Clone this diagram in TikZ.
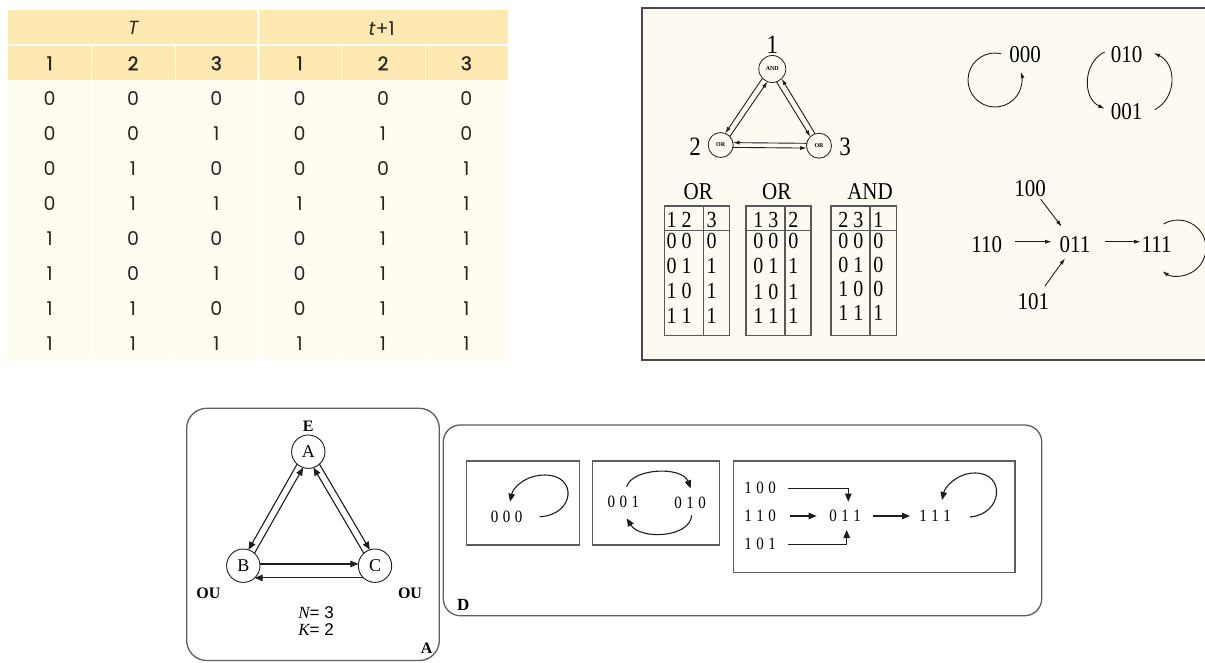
\documentclass[tikz,border=0pt]{standalone}
\usepackage{fontspec}
\setmainfont{Liberation Serif}
\newfontfamily\popfont{Poppins}
\newfontfamily\popheadfont[FakeBold=1.3]{Poppins}
\newfontfamily\arialfont{Liberation Sans}
\usetikzlibrary{arrows.meta,calc}

\definecolor{headyellow}{HTML}{FEEAB0}
\definecolor{cellcream}{HTML}{FFFCF0}
\definecolor{panelcream}{HTML}{FDFBF1}
\definecolor{framegray}{HTML}{4A4A4A}
\definecolor{boxgray}{HTML}{5E5E5E}
\definecolor{inkdark}{HTML}{1E1E1E}

\newcommand{\fs}[1]{\fontsize{#1}{#1}\selectfont}
\newcommand{\tall}[1]{\scalebox{1}[1.15]{#1}}
\newcommand{\spaced}[3]{\tall{#1\kern4.5pt#2\kern4.5pt#3}}

\begin{document}
\begin{tikzpicture}[x=1pt,y=-1pt,
  every node/.style={inner sep=0pt, outer sep=0pt},
  tabhead/.style={font=\popheadfont\fs{19}, text=black!85},
  tabcell/.style={font=\popfont\fs{19}, text=black!85},
  gate/.style={circle, draw=inkdark, line width=0.8pt, fill=panelcream, font=\bfseries\fs{6}},
  lab/.style={font=\fs{23}},
  state/.style={font=\fs{21}},
  tarrow/.style={draw=inkdark, line width=0.9pt, -{Latex[length=6.5pt,width=4pt]}},
  ttitle/.style={font=\fs{21}},
  tdigit/.style={font=\fs{20}},
  tabline/.style={draw=black!65, line width=1.3pt},
  boxline/.style={draw=boxgray, line width=1.3pt},
  vertex/.style={circle, draw=inkdark, line width=0.9pt, minimum size=33.4pt, fill=white, font=\fs{18}},
  darrow/.style={draw=inkdark, line width=1.1pt, -{Triangle[length=8pt,width=6.5pt]}},
  tag/.style={font=\bfseries\fs{16}},
  bstate/.style={font=\fs{15}}
]
\useasboundingbox (0,0) rectangle (1205,662);
\clip (0,0) rectangle (1205,662);
\fill[white] (0,0) rectangle (1205,662);

% ---------- state transition table ----------
\fill[headyellow] (8.3,10) rectangle (508.3,80);
\fill[cellcream] (8.3,80) rectangle (508.3,359.3);
\foreach \k in {1,2,4,5}
  \draw[white, line width=0.8pt] ({8.3+83.33*\k},45) -- ({8.3+83.33*\k},359.3);
\draw[white, line width=2pt] (8.3,45) -- (508.3,45);
\draw[white, line width=2.5pt] (258.3,10) -- (258.3,359.3);
\node[tabhead, font=\popfont\itshape\fs{19}] (hT) at (133.3,28.3) {T};
\node[tabhead, font=\popfont\fs{19}] (hT1) at (381.7,28.3) {{\itshape t}+1};
\foreach \v [count=\j] in {1,2,3,1,2,3}
  \node[tabhead] (hc\j) at ({49.7+83.33*(\j-1)},63.3) {\v};
\foreach \a/\b/\c/\d/\e/\f [count=\i] in
  {0/0/0/0/0/0, 0/0/1/0/1/0, 0/1/0/0/0/1, 0/1/1/1/1/1,
   1/0/0/0/1/1, 1/0/1/0/1/1, 1/1/0/0/1/1, 1/1/1/1/1/1}
  \foreach \v [count=\j] in {\a,\b,\c,\d,\e,\f}
    \node[tabcell] (d\i c\j) at ({49.7+83.33*(\j-1)},{99+34.9*(\i-1)}) {\v};

% ---------- network panel ----------
\draw[framegray, line width=2.2pt, fill=panelcream] (641.7,8.3) rectangle (1230,360);

\node[gate, minimum size=27pt] (n1) at (772.3,69) {AND};
\node[gate, minimum size=25pt] (n2) at (720.7,145) {OR};
\node[gate, minimum size=25pt] (n3) at (819,145.7) {OR};
\node[lab] (l1) at (772.3,45) {\tall{1}};
\node[lab] (l2) at (695,146.7) {\tall{2}};
\node[lab] (l3) at (845,146.7) {\tall{3}};

\draw[tarrow] (n1.223) -- (n2.69);
\draw[tarrow] (n2.43) -- (n1.249);
\draw[tarrow] (n1.288) -- (n3.134);
\draw[tarrow] (n3.108) -- (n1.314);
\draw[tarrow] (n3.169) -- (n2.11);
\draw[tarrow] (n2.349) -- (n3.191);

% attractors
\node[state] (s000) at (1025,55) {\tall{000}};
\draw[tarrow] ($(s000)+(-30,25)+(-77:27)$) arc[start angle=-77, end angle=-378, radius=27];

\node[state] (s010) at (1126.7,55) {\tall{010}};
\node[state] (s001) at (1126.7,111.7) {\tall{001}};
\draw[tarrow] ([shift={(-22,-3)}]s010.center) .. controls (1083,62) and (1082,98) .. ([shift={(-22,-3)}]s001.center);
\draw[tarrow] ([shift={(28,-2)}]s001.center) .. controls (1177,98) and (1177,64) .. ([shift={(27,-2)}]s010.center);

\node[state] (s100) at (1030,188.3) {\tall{100}};
\node[state] (s110) at (986.7,245) {\tall{110}};
\node[state] (s011) at (1075,245) {\tall{011}};
\node[state] (s111) at (1156.7,245) {\tall{111}};
\node[state] (s101) at (1033.3,301.7) {\tall{101}};
\draw[tarrow] ([shift={(28.3,-3.3)}]s110.center) -- ([shift={(-23.3,-3.3)}]s011.center);
\draw[tarrow] ([shift={(10.7,11)}]s100.center) -- ([shift={(-13.3,-18.3)}]s011.center);
\draw[tarrow] ([shift={(11.7,-15.7)}]s101.center) -- ([shift={(-10,13.3)}]s011.center);
\draw[tarrow] ([shift={(30,-3.3)}]s011.center) -- ([shift={(-16,-3.3)}]s111.center);
\draw[tarrow] ($(s111)+(21.3,3)+(-121:28)$) arc[start angle=-121, end angle=124, radius=28];

% gate truth tables
\node[ttitle] (ta) at (698.3,191.7) {\tall{OR}};
\draw[tabline] (664.3,206) rectangle (729.3,335.7) (703.3,206) -- (703.3,335.7) (664.3,230.7) -- (729.3,230.7);
\foreach \y/\p/\q/\r [count=\i] in {219.7/1/2/3, 241/0/0/0, 266/0/1/1, 291/1/0/1, 316/1/1/1} {
  \node[tdigit] (ta\i p) at (671.7,\y) {\tall{\p}};
  \node[tdigit] (ta\i q) at (686.7,\y) {\tall{\q}};
  \node[tdigit] (ta\i r) at (711.7,\y) {\tall{\r}};
}
\node[ttitle] (tb) at (776.7,191.7) {\tall{OR}};
\draw[tabline] (746,206) rectangle (811,335.7) (785,206) -- (785,335.7) (746,230.7) -- (811,230.7);
\foreach \y/\p/\q/\r [count=\i] in {219.7/1/3/2, 241/0/0/0, 266/0/1/1, 292/1/0/1, 316/1/1/1} {
  \node[tdigit] (tb\i p) at (758.3,\y) {\tall{\p}};
  \node[tdigit] (tb\i q) at (773.3,\y) {\tall{\q}};
  \node[tdigit] (tb\i r) at (793.3,\y) {\tall{\r}};
}
\node[ttitle] (tc) at (870,191.7) {\tall{AND}};
\draw[tabline] (831,206) rectangle (896.7,335.7) (870,206) -- (870,335.7) (831,230.7) -- (896.7,230.7);
\foreach \y/\p/\q/\r [count=\i] in {219.7/2/3/1, 241/0/0/0, 265/0/1/0, 289/1/0/0, 313/1/1/1} {
  \node[tdigit] (tc\i p) at (843.3,\y) {\tall{\p}};
  \node[tdigit] (tc\i q) at (858.3,\y) {\tall{\q}};
  \node[tdigit] (tc\i r) at (878.3,\y) {\tall{\r}};
}

% ---------- panel A: network ----------
\draw[boxline, rounded corners=20pt] (186.7,408.3) rectangle (439.3,660.5);
\node[tag] (tagE) at (308.3,426.7) {E};
\node[vertex] (va) at (308.3,451.7) {A};
\node[vertex] (vb) at (243.3,565.7) {B};
\node[vertex] (vc) at (375,565.7) {C};
\node[tag] (ou1) at (208.3,593.3) {OU};
\node[tag] (ou2) at (410,593.3) {OU};
\node[font=\fs{17}] (nn) at (316,613) {{\itshape N}{\arialfont= 3}};
\node[font=\fs{17}] (kk) at (316,630) {{\itshape K}{\arialfont= 2}};
\node[tag] (tagA) at (426.7,648.3) {A};

\draw[darrow] (va.228) -- (vb.72);
\draw[darrow] (vb.48) -- (va.252);
\draw[darrow] (va.312) -- (vc.108);
\draw[darrow] (vc.132) -- (va.288);
\draw[darrow] (vb.6) -- (vc.174);
\draw[darrow] (vc.227) -- (vb.313);

% ---------- panel D: attractors ----------
\draw[boxline, rounded corners=17pt] (443.3,425) rectangle (1041.7,615.7);
\node[tag, font=\bfseries\fs{17}] (tagD) at (463.3,605) {D};
\draw[boxline] (466.7,461) rectangle (579.3,545);
\draw[boxline] (592.7,461) rectangle (719.3,545);
\draw[boxline] (733.3,461) rectangle (1015,572.7);

\node[bstate] (b000) at (506.7,516.7) {\spaced 000};
\draw[darrow] ([xshift=33pt]b000.center) .. controls (575,515) and (578,475) .. (545,475)
  .. controls (525,475) and (513,488) .. ([shift={(3.3,-15)}]b000.center);

\node[bstate] (b001) at (623.3,501.7) {\spaced 001};
\node[bstate] (b010) at (690,503.3) {\spaced 010};
\draw[darrow] ([shift={(3.4,-15)}]b001.center) .. controls (632,468) and (682,466) .. ([shift={(0.7,-15)}]b010.center);
\draw[darrow] ([shift={(1.7,12)}]b010.center) .. controls (690,538) and (640,540) .. ([shift={(3.4,16.6)}]b001.center);

\node[bstate] (b100) at (760,488.3) {\spaced 100};
\node[bstate] (b110) at (760,516) {\spaced 110};
\node[bstate] (b101) at (760,544.3) {\spaced 101};
\node[bstate] (b011) at (845,516) {\spaced 011};
\node[bstate] (b111) at (935,516) {\spaced 111};
\draw[darrow] ([xshift=28.3pt]b100.center) -| ([shift={(3.3,-14.3)}]b011.center);
\draw[darrow] ([xshift=30pt]b110.center) -- ([xshift=-28.3pt]b011.center);
\draw[darrow] ([xshift=28.3pt]b101.center) -| ([shift={(1.7,14)}]b011.center);
\draw[darrow] ([xshift=28.3pt]b011.center) -- ([xshift=-25pt]b111.center);
\draw[darrow] ([shift={(35,1)}]b111.center) .. controls (1003,514) and (1006,473) .. (975,473)
  .. controls (957,473) and (945,487) .. ([shift={(7,-16)}]b111.center);
\end{tikzpicture}
\end{document}
